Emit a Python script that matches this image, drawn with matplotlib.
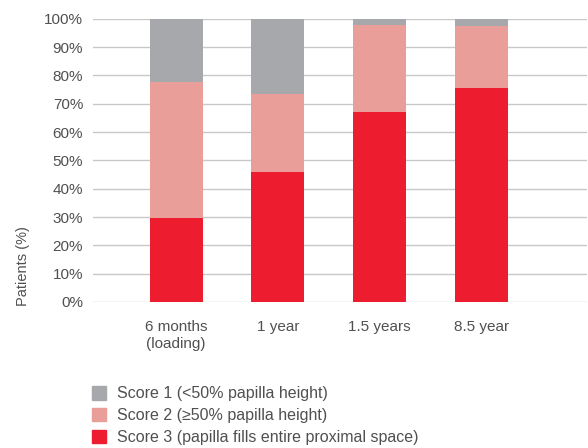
import matplotlib.pyplot as plt
from matplotlib.patches import Patch
import numpy as np

categories = ['6 months\n(loading)', '1 year', '1.5 years', '8.5 year']
score3 = [29.8, 46.0, 67.2, 75.6]
score2 = [47.9, 27.6, 30.6, 21.9]
score1 = [22.3, 26.4, 2.2, 2.5]
legend_labels = ['Score 1 (<50% papilla height)',
                 'Score 2 (\u226550% papilla height)',
                 'Score 3 (papilla fills entire proximal space)']

grey = '#a7a8ab'
pink = '#ea9e99'
red = '#ed1c2e'
txt = '#505050'

plt.rcParams['font.family'] = ['Liberation Sans', 'DejaVu Sans']

fig = plt.figure(figsize=(5.88, 4.48), dpi=100)
ax = fig.add_axes([0.158, 0.326, 0.84, 0.632])

x = np.arange(len(categories))
w = 0.52
s3 = np.array(score3)
s2 = np.array(score2)
s1 = np.array(score1)
ax.bar(x, s3, w, color=red, zorder=2)
ax.bar(x, s2, w, bottom=s3, color=pink, zorder=2)
ax.bar(x, s1, w, bottom=s3 + s2, color=grey, zorder=2)

ax.set_xlim(-0.82, 4.04)
ax.set_ylim(0, 100)
ax.set_yticks(np.arange(0, 101, 10))
ax.set_yticklabels([f'{v}%' for v in range(0, 101, 10)])
ax.set_xticks(x)
ax.set_xticklabels(categories)
ax.grid(axis='y', color='#c8c8c8', lw=1, zorder=0)
ax.set_axisbelow(True)
for s in ax.spines.values():
    s.set_visible(False)
ax.tick_params(axis='y', length=0, pad=7, labelsize=11, colors=txt)
ax.tick_params(axis='x', length=0, pad=13, labelsize=11, colors=txt)
for t in ax.get_xticklabels():
    t.set_linespacing(1.25)

ax.set_ylabel('Patients (%)', fontsize=10.5, color=txt)
ax.yaxis.set_label_coords(-0.128, 0.127)

handles = [Patch(color=grey), Patch(color=pink), Patch(color=red)]
fig.legend(handles, legend_labels, loc='upper left', bbox_to_anchor=(0.145, 0.152),
           frameon=False, fontsize=11.5, labelcolor=txt, handlelength=0.9,
           handleheight=0.9, handletextpad=0.7, labelspacing=0.42,
           borderaxespad=0)

fig.savefig('out.png', dpi=100)
